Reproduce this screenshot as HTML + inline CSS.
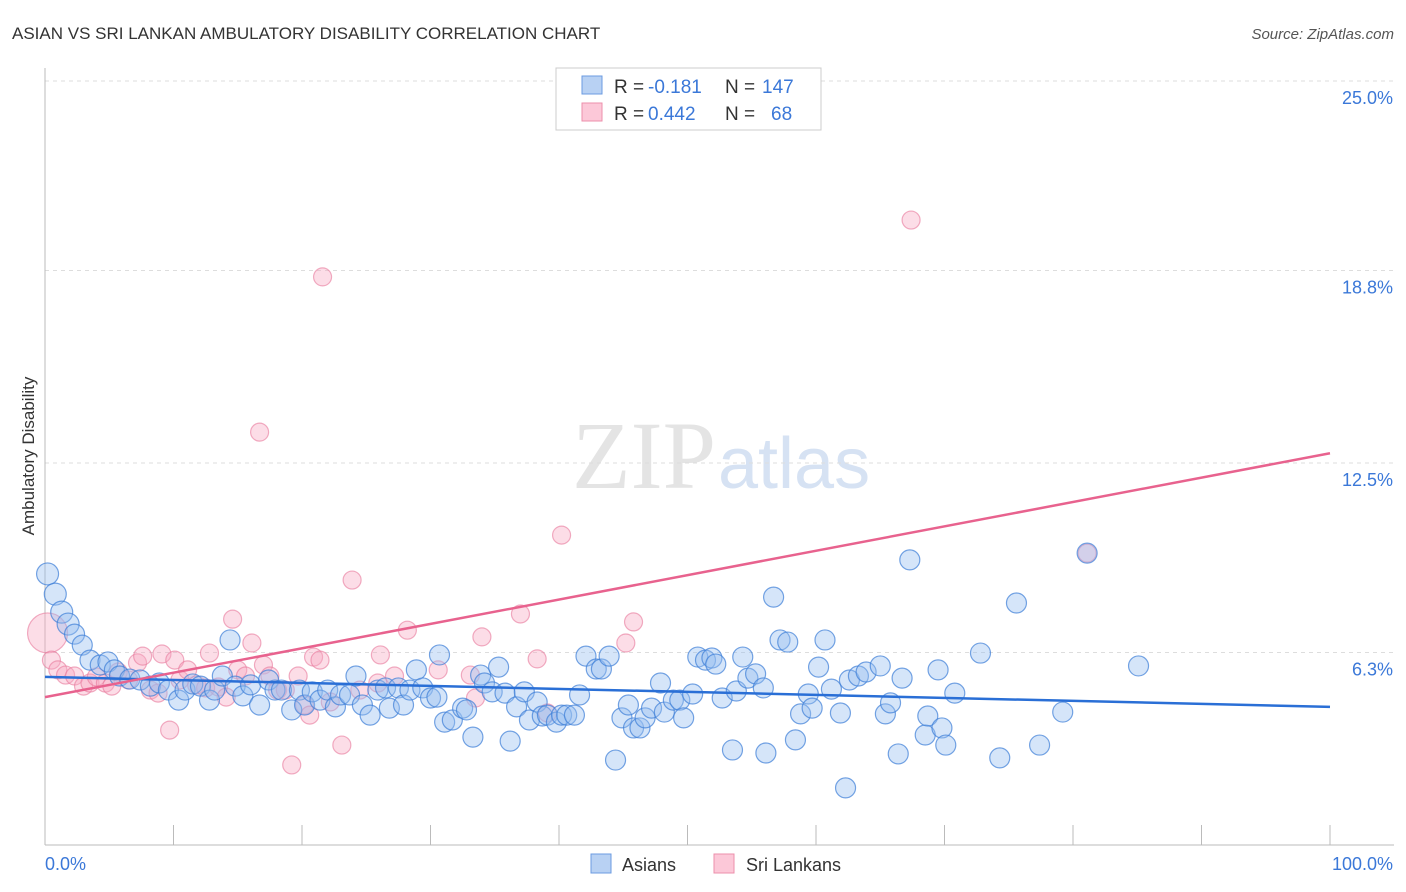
<!DOCTYPE html>
<html><head><meta charset="utf-8"><style>
body{margin:0;background:#fff;font-family:"Liberation Sans",sans-serif;}
#c{position:absolute;left:0;top:0;}
</style></head><body>
<svg id="c" width="1406" height="892">
<text x="12" y="39" font-size="17" fill="#333">ASIAN VS SRI LANKAN AMBULATORY DISABILITY CORRELATION CHART</text>
<text x="1394" y="39" font-size="15" fill="#555" font-style="italic" text-anchor="end">Source: ZipAtlas.com</text>
<text x="716" y="488" font-size="96" fill="#e4e4e4" text-anchor="end" font-family="Liberation Serif">ZIP</text>
<text x="718" y="488" font-size="72" fill="#d6e2f3">atlas</text>
<g id="grid"></g><g id="pts"></g><g id="lines"></g>
<text transform="translate(34,456) rotate(-90)" font-size="17" fill="#333" text-anchor="middle">Ambulatory Disability</text>
<g>
<rect x="556" y="68" width="265" height="62" fill="#fff" stroke="#ccc"/>
<rect x="582" y="76" width="20" height="18" fill="#b8d1f3" stroke="#6b9be0"/>
<rect x="582" y="103" width="20" height="18" fill="#fcc8d8" stroke="#ec8fab"/>
<text x="614" y="93" font-size="19" fill="#333">R =</text>
<text x="648" y="93" font-size="19" fill="#3b78d8">-0.181</text>
<text x="725" y="93" font-size="19" fill="#333">N =</text>
<text x="762" y="93" font-size="19" fill="#3b78d8">147</text>
<text x="614" y="120" font-size="19" fill="#333">R =</text>
<text x="648" y="120" font-size="19" fill="#3b78d8">0.442</text>
<text x="725" y="120" font-size="19" fill="#333">N =</text>
<text x="771" y="120" font-size="19" fill="#3b78d8">68</text>
</g>
<g>
<rect x="591" y="854" width="20" height="19" fill="#b8d1f3" stroke="#6b9be0"/>
<text x="622" y="871" font-size="18" fill="#333">Asians</text>
<rect x="714" y="854" width="20" height="19" fill="#fcc8d8" stroke="#ec8fab"/>
<text x="746" y="871" font-size="18" fill="#333">Sri Lankans</text>
</g>
<text x="45" y="870" font-size="18" fill="#3b78d8">0.0%</text>
<text x="1393" y="870" font-size="18" fill="#3b78d8" text-anchor="end">100.0%</text>
</svg>
<script>
const yTicks=[25.0,18.8,12.5,6.3];
const yTickLabels=["25.0%","18.8%","12.5%","6.3%"];
const asianX=[0.2,0.8,1.3,1.8,2.3,2.9,3.5,4.3,4.9,5.4,5.8,6.6,7.4,8.2,8.9,9.6,10.4,10.9,11.5,12.1,12.8,13.2,13.8,14.4,14.8,15.4,16.0,16.7,17.4,17.9,18.4,19.2,19.8,20.2,20.8,21.4,22.0,22.6,23.0,23.7,24.2,24.7,25.3,25.9,26.5,26.8,27.5,27.9,28.4,28.9,29.4,30.0,30.5,30.7,31.1,31.7,32.5,32.8,33.3,33.9,34.2,34.8,35.3,35.8,36.2,36.7,37.3,37.7,38.3,38.7,39.1,39.8,40.2,40.6,41.2,41.6,42.1,42.9,43.3,43.9,44.4,44.9,45.4,45.8,46.3,46.7,47.2,47.9,48.2,48.9,49.4,49.7,50.4,50.8,51.4,51.9,52.2,52.7,53.5,53.8,54.3,54.7,55.3,55.9,56.1,56.7,57.2,57.8,58.4,58.8,59.4,59.7,60.2,60.7,61.2,61.9,62.3,62.6,63.3,63.9,65.0,65.4,65.8,66.4,66.7,67.3,68.5,68.7,69.5,69.8,70.1,70.8,72.8,74.3,75.6,77.4,79.2,81.1,85.1];
const asianY=[8.87,8.21,7.62,7.23,6.90,6.54,6.05,5.89,5.99,5.73,5.53,5.43,5.40,5.20,5.30,5.07,4.74,5.07,5.27,5.20,4.74,5.07,5.53,6.71,5.20,4.88,5.24,4.58,5.40,5.07,5.07,4.42,5.07,4.58,5.01,4.74,5.07,4.52,4.91,4.91,5.53,4.58,4.25,5.07,5.14,4.48,5.14,4.58,5.07,5.73,5.14,4.81,4.84,6.22,4.02,4.09,4.48,4.42,3.53,5.56,5.30,5.01,5.82,4.97,3.40,4.52,5.01,4.09,4.68,4.22,4.25,4.02,4.25,4.25,4.25,4.91,6.18,5.76,5.76,6.18,2.78,4.16,4.58,3.83,3.83,4.16,4.48,5.30,4.35,4.74,4.74,4.16,4.94,6.15,6.05,6.12,5.92,4.81,3.11,5.04,6.15,5.46,5.60,5.14,3.01,8.11,6.71,6.64,3.44,4.29,4.94,4.48,5.82,6.71,5.10,4.32,1.87,5.40,5.53,5.66,5.86,4.29,4.65,2.98,5.46,9.33,3.60,4.22,5.73,3.83,3.27,4.97,6.28,2.85,7.92,3.27,4.35,9.55,5.86];
const lankX=[0.2,0.5,1.0,1.6,2.3,3.0,3.5,4.0,4.7,5.2,5.7,6.5,7.2,7.6,8.2,8.8,9.1,9.7,10.1,10.5,11.1,11.8,12.5,12.8,13.5,14.1,14.6,15.0,15.6,16.1,16.7,17.0,17.5,18.1,18.7,19.2,19.7,20.2,20.6,20.9,21.4,21.6,22.2,23.1,23.9,24.5,25.9,26.1,27.2,28.2,30.6,33.1,33.5,34.0,37.0,38.3,39.1,40.2,45.2,45.8,67.4,81.1];
const lankY=[6.94,6.05,5.73,5.56,5.53,5.20,5.30,5.50,5.30,5.20,5.66,5.40,5.96,6.18,5.07,4.97,6.25,3.76,6.05,5.40,5.73,5.24,5.14,6.28,5.17,4.84,7.39,5.73,5.53,6.61,13.51,5.89,5.53,5.07,5.07,2.62,5.53,4.58,4.25,6.15,6.05,18.59,4.68,3.27,8.67,5.07,5.30,6.22,5.53,7.03,5.73,5.56,4.81,6.81,7.56,6.09,4.32,10.14,6.61,7.30,20.45,9.55];
const asianTrend=[5.50,4.52];
const lankTrend=[4.84,12.82];
const NS="http://www.w3.org/2000/svg";
const X0=45,X1=1330,Y0=845,PPU=191/6.25;
const xs=v=>X0+(X1-X0)*v/100, ys=v=>Y0-v*PPU;
function mk(t,a,p){const e=document.createElementNS(NS,t);for(const k in a)e.setAttribute(k,a[k]);p.appendChild(e);return e;}
const grid=document.getElementById('grid');
yTicks.forEach((t,i)=>{
 const l=mk('line',{x1:X0,x2:1394,y1:ys(t),y2:ys(t),stroke:'#ddd','stroke-dasharray':'4,4'},grid);
 
 
 const tx=mk('text',{x:1393,y:ys(t)+23,'font-size':18,fill:'#3b78d8','text-anchor':'end'},grid);
 tx.textContent=yTickLabels[i];
 
 
});
const ax=mk('line',{x1:X0,x2:X0,y1:68,y2:Y0,stroke:'#bbb'},grid);


const bx=mk('line',{x1:X0,x2:1394,y1:Y0,y2:Y0,stroke:'#bbb'},grid);


for(let i=1;i<=10;i++){const t=mk('line',{x1:X0+128.5*i,x2:X0+128.5*i,y1:Y0,y2:Y0-20,stroke:'#bbb'},grid);
 
 }
const pts=document.getElementById('pts');
lankX.forEach((x,i)=>{const c=mk('circle',{cx:xs(x),cy:ys(lankY[i]),r:i==0?20:9,fill:'rgba(248,170,195,0.4)',stroke:'rgba(232,120,155,0.6)','stroke-width':1.2},pts);
 
 });
asianX.forEach((x,i)=>{const c=mk('circle',{cx:xs(x),cy:ys(asianY[i]),r:i<4?11:10,fill:'rgba(150,190,240,0.4)',stroke:'rgba(60,125,215,0.7)','stroke-width':1.2},pts);
 
 });
const lines=document.getElementById('lines');
const a=mk('line',{x1:xs(0),x2:xs(100),y1:ys(asianTrend[0]),y2:ys(asianTrend[1]),stroke:'#2a6fd6','stroke-width':2.5},lines);


const b=mk('line',{x1:xs(0),x2:xs(100),y1:ys(lankTrend[0]),y2:ys(lankTrend[1]),stroke:'#e8628e','stroke-width':2.5},lines);


</script>
</body></html>
